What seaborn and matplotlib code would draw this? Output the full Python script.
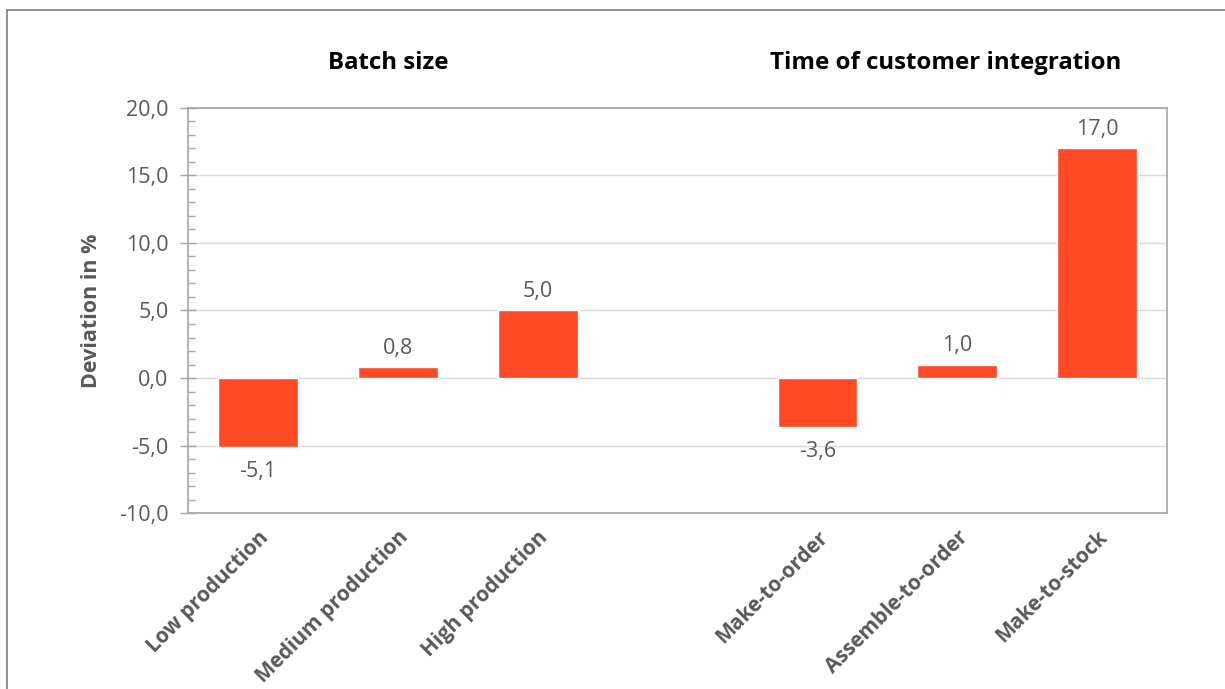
import matplotlib
matplotlib.use("Agg")
import matplotlib.pyplot as plt
from matplotlib.lines import Line2D
from matplotlib.ticker import MultipleLocator, FuncFormatter
import seaborn as sns
import pandas as pd

# Deviation per production characteristic (%)
batch_labels = ["Low production", "Medium production", "High production"]
batch_values = [-5.1, 0.8, 5.0]
integration_labels = ["Make-to-order", "Assemble-to-order", "Make-to-stock"]
integration_values = [-3.6, 1.0, 17.0]
group_titles = ["Batch size", "Time of customer integration"]

gap = " "
order = batch_labels + [gap] + integration_labels
df = pd.DataFrame({
    "category": batch_labels + integration_labels,
    "deviation": batch_values + integration_values,
})

sns.set_theme(style="white")
plt.rcParams["font.family"] = ["Open Sans", "DejaVu Sans"]

GRAY = "#595959"
BAR = "#FF4A26"

fig = plt.figure(figsize=(12.25, 6.89), dpi=100)
ax = fig.add_axes([0.1535, 0.2554, 0.7992, 0.5879])

sns.barplot(data=df, x="category", y="deviation", order=order,
            color=BAR, saturation=1, width=0.57, ax=ax, zorder=3)

ax.set_ylim(-10, 20)
ax.set_xlim(-0.5, len(order) - 0.5)
ax.yaxis.set_major_locator(MultipleLocator(5))
ax.yaxis.set_minor_locator(MultipleLocator(1))
ax.yaxis.set_major_formatter(FuncFormatter(lambda v, _: f"{v:.1f}".replace(".", ",")))
ax.grid(axis="y", which="major", color="#D9D9D9", linewidth=1, zorder=0)
ax.set_axisbelow(True)

for side in ["top", "right", "bottom", "left"]:
    ax.spines[side].set_visible(True)
    ax.spines[side].set_color("#A6A6A6")
    ax.spines[side].set_linewidth(1.2)

ax.tick_params(axis="y", which="major", direction="inout", length=12, width=1,
               color="#A6A6A6", labelsize=15.5, labelcolor=GRAY, pad=8, left=True)
ax.tick_params(axis="y", which="minor", direction="in", length=5, width=1,
               color="#A6A6A6", left=True)
ax.tick_params(axis="x", length=0, pad=10)

ax.set_xticks(range(len(order)))
ax.set_xticklabels([c if c != gap else "" for c in order], rotation=45,
                   ha="right", rotation_mode="anchor", fontsize=15,
                   fontweight="bold", color=GRAY)
ax.set_xlabel("")
ax.set_ylabel("Deviation in %", fontsize=15.5, fontweight="bold", color=GRAY, labelpad=12)

# value labels above positive bars, below negative ones
for bar in ax.patches:
    h = bar.get_height()
    if pd.isna(h) or bar.get_width() == 0:
        continue
    x = bar.get_x() + bar.get_width() / 2
    txt = f"{h:.1f}".replace(".", ",")
    if h >= 0:
        ax.annotate(txt, (x, h), xytext=(0, 6), textcoords="offset points",
                    ha="center", va="bottom", fontsize=15.5, color=GRAY)
    else:
        ax.annotate(txt, (x, h), xytext=(0, -10), textcoords="offset points",
                    ha="center", va="top", fontsize=15.5, color=GRAY)

# group headings
ax.text(1 - 0.07, 1.11, group_titles[0], transform=ax.get_xaxis_transform(),
        ha="center", va="center", fontsize=17.3, fontweight="bold", color="black")
ax.text(5 - 0.08, 1.11, group_titles[1], transform=ax.get_xaxis_transform(),
        ha="center", va="center", fontsize=17.3, fontweight="bold", color="black")

# outer frame
fig.add_artist(Line2D([7 / 1225, 1], [1 - 10 / 689, 1 - 10 / 689],
                      transform=fig.transFigure, color="#7F7F7F", linewidth=1.2))
fig.add_artist(Line2D([7 / 1225, 7 / 1225], [0, 1 - 10 / 689],
                      transform=fig.transFigure, color="#7F7F7F", linewidth=1.2))

fig.savefig("out.png", dpi=100, facecolor="white")
